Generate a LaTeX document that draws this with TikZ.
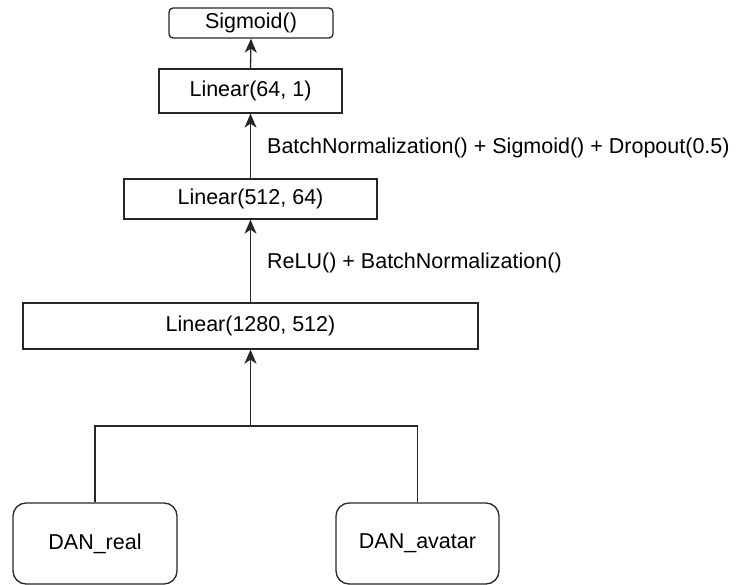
\documentclass[tikz,border=0pt]{standalone}
\usepackage{fontspec}
\setmainfont{Liberation Sans}
\usetikzlibrary{arrows.meta}
\tikzset{
  flowtip/.tip={Stealth[length=14pt,width=12pt,inset=4pt]}
}
\begin{document}
\begin{tikzpicture}[x=1pt,y=-1pt,
  every node/.style={font=\fontsize{21.5}{26}\selectfont},
  layer/.style={draw=black!85, line width=1.3pt, inner sep=0pt, align=center},
  source/.style={layer, rounded corners=13pt},
  conn/.style={draw=black!85, line width=1.3pt},
  flow/.style={conn, arrows={-flowtip}},
  tag/.style={anchor=west, inner sep=0pt}]
  \useasboundingbox (0,0) rectangle (736,585);

  % stacked layers
  \node[layer, rounded corners=4pt, minimum width=164pt, minimum height=30pt] (sig) at (251,23) {Sigmoid()};
  \node[layer, minimum width=183pt, minimum height=44pt] (l64) at (250.5,91) {Linear(64, 1)};
  \node[layer, minimum width=253pt, minimum height=40pt] (l512) at (250.5,199) {Linear(512, 64)};
  \node[layer, minimum width=455pt, minimum height=46pt] (l1280) at (250.5,326) {Linear(1280, 512)};

  % the two feature sources
  \node[source, minimum width=164pt, minimum height=81pt] (real) at (95,543.5) {DAN\_real};
  \node[source, minimum width=163pt, minimum height=81pt] (avatar) at (417.5,543.5) {DAN\_avatar};

  % merge of the two branches
  \coordinate (join) at (250.5,426);
  \draw[conn] (real.north) |- (join) -| (avatar.north);
  \draw[flow, line width=1.8pt] (join) -- (l1280.south);

  % forward connections
  \draw[flow] (l1280.north) -- (l512.south);
  \draw[flow] (l512.north) -- (l64.south);
  \draw[flow] (l64.north) -- (sig.south);

  % activation / regularisation labels
  \node[tag] (act2) at (267,148) {BatchNormalization() + Sigmoid() + Dropout(0.5)};
  \node[tag] (act1) at (267,263) {ReLU() + BatchNormalization()};
\end{tikzpicture}
\end{document}
